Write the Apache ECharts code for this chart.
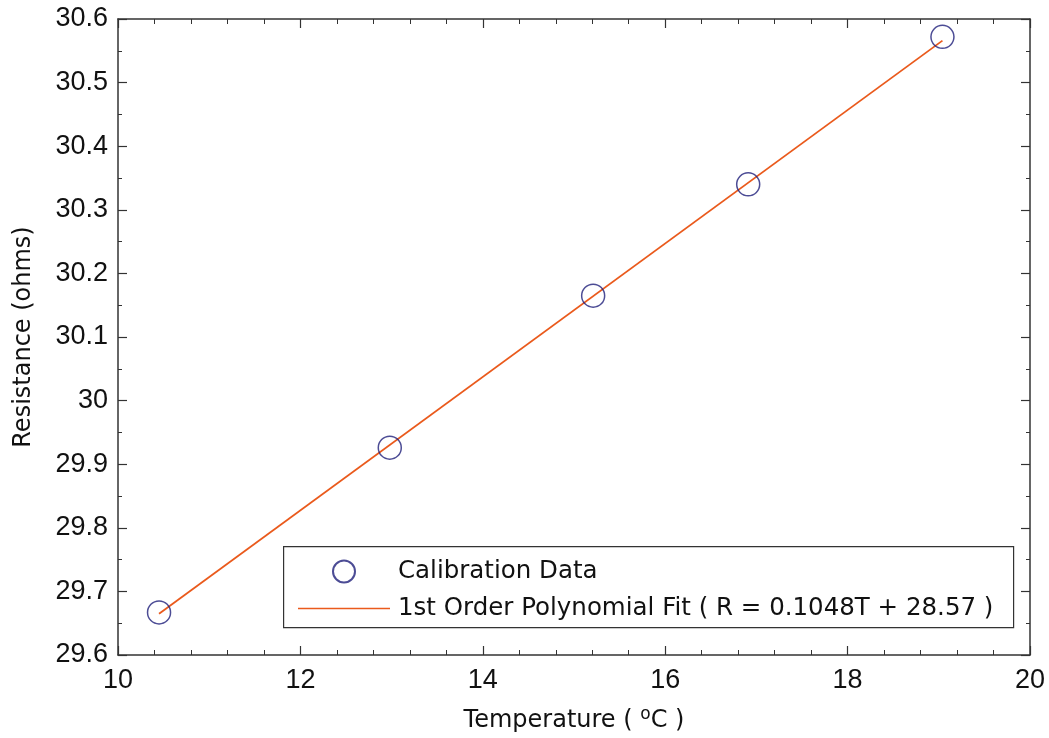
<!DOCTYPE html>
<html><head><meta charset="utf-8">
<script src="https://cdn.jsdelivr.net/npm/echarts@6/dist/echarts.min.js"></script>
<style>html,body{margin:0;padding:0;background:#fff}#c{width:1049px;height:738px}</style>
</head><body><div id="c"></div>
<script>
const temperature = [10.45, 12.98, 15.21, 16.91, 19.04];
const resistance = [29.667, 29.926, 30.165, 30.340, 30.572];
const fitT = [10.45, 19.04];
const fitR = [29.665, 30.566];
const dataName = 'Calibration Data';
const fitName = '1st Order Polynomial Fit ( R = 0.1048T + 28.57 )';
const xTitle = 'Temperature ( {sup|o}C )';
const yTitle = 'Resistance (ohms)';

const font = 'Liberation Sans, Arial, Helvetica, sans-serif';
const wide = 'DejaVu Sans, sans-serif';
const chart = echarts.init(document.getElementById('c'), null, {renderer:'canvas'});
const axisLine = {show:true, lineStyle:{color:'#333', width:1.5}};
const baseX = {type:'value', min:10, max:20, interval:2,
  axisLine, splitLine:{show:false},
  axisTick:{show:true, inside:true, length:9, lineStyle:{color:'#333', width:1.2}},
  minorTick:{show:true, splitNumber:5, length:5, lineStyle:{color:'#333', width:1}},
  minorSplitLine:{show:false}};
const baseY = {type:'value', min:29.6, max:30.6, interval:0.1,
  axisLine, splitLine:{show:false},
  axisTick:{show:true, inside:true, length:9, lineStyle:{color:'#333', width:1.2}},
  minorTick:{show:true, splitNumber:2, length:4, lineStyle:{color:'#333', width:1}},
  minorSplitLine:{show:false}};
chart.setOption({
  backgroundColor:'#fff',
  animation:false,
  grid:{left:118, right:19, top:19, bottom:83, containLabel:false, outerBoundsMode:'none'},
  graphic:[{type:'rect', left:283, top:546, shape:{width:730, height:81},
    style:{fill:'#fff', stroke:'#333', lineWidth:1.2}, z:50}],
  xAxis:[
    Object.assign({}, baseX, {position:'bottom',
      axisLabel:{fontSize:27, color:'#111', fontFamily:font, margin:12},
      name:xTitle, nameLocation:'middle', nameGap:51,
      nameTextStyle:{fontSize:24, color:'#111', fontFamily:wide,
        rich:{sup:{fontSize:17, color:'#111', fontFamily:wide, verticalAlign:'top', padding:[0,0,12,0]}}}}),
    Object.assign({}, baseX, {position:'top', axisLabel:{show:false}})
  ],
  yAxis:[
    Object.assign({}, baseY, {position:'left',
      axisLabel:{fontSize:27, color:'#111', fontFamily:font, margin:10},
      name:yTitle, nameLocation:'middle', nameGap:82,
      nameTextStyle:{fontSize:24, color:'#111', fontFamily:wide}}),
    Object.assign({}, baseY, {position:'right', axisLabel:{show:false}})
  ],
  legend:{
    left:298, top:559, orient:'vertical', z:60,
    padding:0, itemGap:12, itemWidth:92, itemHeight:22,
    textStyle:{fontSize:24.5, color:'#111', fontFamily:wide, padding:[0,0,0,3]},
    data:[{name:dataName},
          {name:fitName, icon:'path://M0 0 L100 0 L100 1.8 L0 1.8 Z'}]
  },
  series:[
    {name:fitName, type:'line', data:fitT.map((t,i)=>[t, fitR[i]]),
      showSymbol:false, symbol:'none', lineStyle:{color:'#ea5a1c', width:1.8}, itemStyle:{color:'#ea5a1c'}, z:2},
    {name:dataName, type:'scatter', data:temperature.map((t,i)=>[t, resistance[i]]),
      symbol:'circle', symbolSize:23,
      itemStyle:{color:'rgba(0,0,0,0)', borderColor:'#1f1f7a', borderWidth:1.5}, z:3}
  ]
});
</script></body></html>
